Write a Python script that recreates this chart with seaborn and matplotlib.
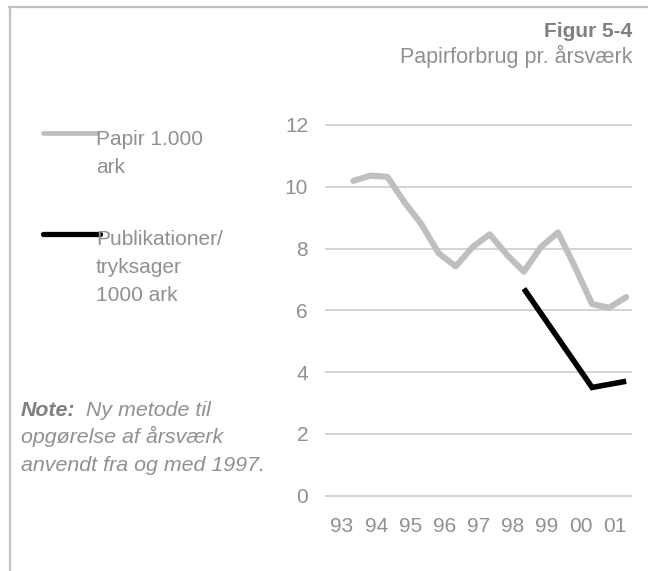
import numpy as np
import pandas as pd
import matplotlib
matplotlib.use("Agg")
import matplotlib.pyplot as plt
import seaborn as sns
from matplotlib.lines import Line2D

# ---- data ----
year_labels = ["93", "94", "95", "96", "97", "98", "99", "00", "01"]
tick_years = [1993, 1994, 1995, 1996, 1997, 1998, 1999, 2000, 2001]

paper_x = [1993.33, 1993.83, 1994.33, 1994.83, 1995.33, 1995.83, 1996.33, 1996.83,
           1997.33, 1997.83, 1998.33, 1998.83, 1999.33, 1999.83, 2000.33, 2000.83, 2001.33]
paper_y = [10.19, 10.36, 10.32, 9.50, 8.78, 7.85, 7.42, 8.05,
           8.46, 7.80, 7.25, 8.05, 8.52, 7.40, 6.20, 6.08, 6.43]

pub_x = [1998.33, 1999.33, 2000.33, 2001.33]
pub_y = [6.70, 5.10, 3.50, 3.70]

series_names = ["Papir 1.000\nark", "Publikationer/\ntryksager\n1000 ark"]
y_ticks = [0, 2, 4, 6, 8, 10, 12]

GRAY = "#bfbfbf"
BLACK = "#000000"
TEXT = "#909090"
DARK = "#7f7f7f"

sns.set_theme(style="white")
plt.rcParams["font.family"] = ["Liberation Sans", "DejaVu Sans"]

W, H = 648, 571
fig = plt.figure(figsize=(W / 100, H / 100), dpi=100)

unit = 30.875
y0_px = 495.5
ylo, yhi = -0.1, 12.1
ax_left, ax_right = 325, 632
ax_bottom_px = y0_px - ylo * unit
ax_top_px = y0_px - yhi * unit
ax = fig.add_axes([ax_left / W, 1 - ax_bottom_px / H,
                   (ax_right - ax_left) / W, (ax_bottom_px - ax_top_px) / H])

paper_df = pd.DataFrame({"x": paper_x, "y": paper_y})
pub_df = pd.DataFrame({"x": pub_x, "y": pub_y})

sns.lineplot(data=paper_df, x="x", y="y", ax=ax, color=GRAY, linewidth=4.4,
             sort=False, solid_capstyle="round", solid_joinstyle="round", legend=False)
sns.lineplot(data=pub_df, x="x", y="y", ax=ax, color=BLACK, linewidth=4.0,
             sort=False, solid_capstyle="butt", solid_joinstyle="miter", legend=False)

ax.set_xlim(1992.5, 2001.5)
ax.set_ylim(ylo, yhi)
ax.set_yticks(y_ticks)
ax.set_yticklabels([str(v) for v in y_ticks])
ax.set_xticks(tick_years)
ax.set_xticklabels(year_labels)
ax.set_xlabel("")
ax.set_ylabel("")
for s in ax.spines.values():
    s.set_visible(False)
ax.grid(axis="y", color="#c8c8c8", linewidth=1.1)
ax.grid(axis="x", visible=False)
ax.set_axisbelow(True)
ax.tick_params(axis="y", length=0, pad=12.2, labelsize=15, labelcolor=TEXT)
ax.tick_params(axis="x", length=0, pad=13.0, labelsize=15, labelcolor=TEXT)
ax.set_facecolor("none")


def fx(px):
    return px / W


def fy(py):
    return 1 - py / H


# frame border (top and left)
fig.add_artist(Line2D([fx(9), fx(648)], [fy(6.7), fy(6.7)], color="#c0c0c0", linewidth=1.6))
fig.add_artist(Line2D([fx(10), fx(10)], [fy(6.7), fy(571)], color="#c0c0c0", linewidth=1.6))

# titles
fig.text(fx(632), fy(37.3), "Figur 5-4", ha="right", va="baseline", fontsize=15,
         fontweight="bold", color=DARK)
fig.text(fx(632), fy(63.3), "Papirforbrug pr. årsværk", ha="right", va="baseline",
         fontsize=15.5, color=TEXT)

# legend (manual, handle aligned with first text line)
leg_line_y = [133.3, 234.0]
leg_line_x = [(43, 97), (43, 100)]
leg_text_base = [145.0, 245.5]
leg_colors = [GRAY, BLACK]
leg_lw = [3.4, 3.8]
for name, ly, (x0, x1), tb, c, lw in zip(series_names, leg_line_y, leg_line_x,
                                          leg_text_base, leg_colors, leg_lw):
    fig.add_artist(Line2D([fx(x0), fx(x1)], [fy(ly), fy(ly)], color=c, linewidth=lw,
                          solid_capstyle="round"))
    for k, line in enumerate(name.split("\n")):
        fig.text(fx(96), fy(tb + k * 27.6), line, ha="left", va="baseline",
                 fontsize=15, color=TEXT)

# note
fig.text(fx(20.7), fy(416), "Note:", ha="left", va="baseline", fontsize=15.4,
         fontweight="bold", fontstyle="italic", color=DARK)
fig.text(fx(86), fy(416), "Ny metode til", ha="left", va="baseline", fontsize=15.4,
         fontstyle="italic", color=TEXT)
fig.text(fx(20.7), fy(443.3), "opgørelse af årsværk", ha="left", va="baseline",
         fontsize=15.4, fontstyle="italic", color=TEXT)
fig.text(fx(20.7), fy(470.7), "anvendt fra og med 1997.", ha="left", va="baseline",
         fontsize=15.4, fontstyle="italic", color=TEXT)

fig.savefig("out.png", dpi=100, facecolor="white")
